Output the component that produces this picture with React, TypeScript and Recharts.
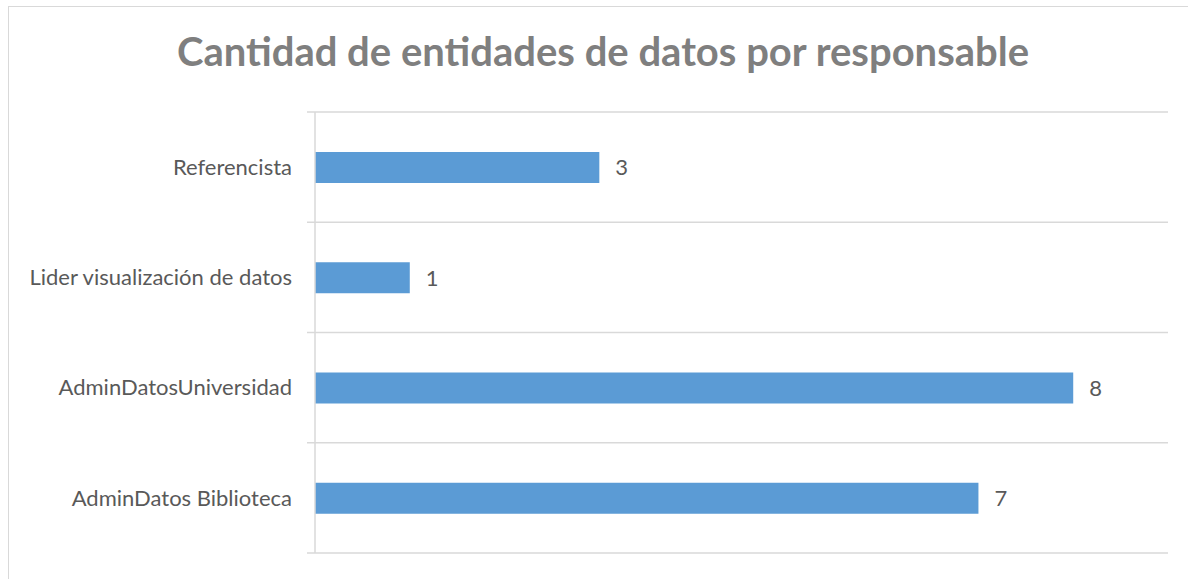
import { Bar, BarChart, CartesianGrid, LabelList, XAxis, YAxis } from "recharts";

const responsables = [
  "Referencista",
  "Lider visualización de datos",
  "AdminDatosUniversidad",
  "AdminDatos Biblioteca",
];
const cantidades = [3, 1, 8, 7];
const xMax = 9;

const data = responsables.map((name, i) => ({ name, value: cantidades[i] }));

const GRID = "#d9d9d9";
const TEXT = "#595959";

// grid line that also sticks out 8px left of the axis, like the tick marks
const GridLine = (props: any) => (
  <line
    x1={props.x1 - 8}
    x2={props.x2}
    y1={props.y1}
    y2={props.y2}
    stroke={GRID}
    strokeWidth={1.5}
  />
);

// lines on the category band edges, not the band centres
const bandEdges = ({ offset }: any) =>
  Array.from(
    { length: responsables.length + 1 },
    (_, i) => offset.top + (offset.height * i) / responsables.length,
  );

export default function App() {
  return (
    <div
      style={{
        position: "fixed",
        left: 0,
        top: 0,
        width: 1188,
        height: 579,
        background: "#fff",
        fontFamily: "Lato, sans-serif",
      }}
    >
      <div
        style={{
          position: "absolute",
          left: 8,
          top: 6,
          width: 1200,
          height: 600,
          border: `1.5px solid ${GRID}`,
        }}
      />
      <div
        style={{
          position: "absolute",
          left: 0,
          width: 1206,
          top: 27,
          textAlign: "center",
          fontSize: 40,
          fontWeight: 700,
          color: "#7f7f7f",
        }}
      >
        Cantidad de entidades de datos por responsable
      </div>
      <div style={{ position: "absolute", left: 0, top: 0 }}>
        <BarChart
          width={1188}
          height={579}
          layout="vertical"
          data={data}
          margin={{ top: 112, right: 20, bottom: 26, left: 0 }}
        >
          <XAxis type="number" domain={[0, xMax]} hide />
          <YAxis
            type="category"
            dataKey="name"
            width={315}
            tickLine={false}
            tickSize={0}
            tickMargin={23}
            axisLine={{ stroke: GRID, strokeWidth: 1.5 }}
            tick={{ fill: TEXT, fontSize: 22, fontFamily: "Lato, sans-serif" }}
          />
          <CartesianGrid
            vertical={false}
            horizontal={GridLine}
            horizontalCoordinatesGenerator={bandEdges}
          />
          <Bar
            dataKey="value"
            fill="#5b9bd5"
            barSize={31}
            isAnimationActive={false}
          >
            <LabelList
              dataKey="value"
              position="right"
              offset={16}
              fill={TEXT}
              fontSize={22}
              fontFamily="Lato, sans-serif"
            />
          </Bar>
        </BarChart>
      </div>
    </div>
  );
}
